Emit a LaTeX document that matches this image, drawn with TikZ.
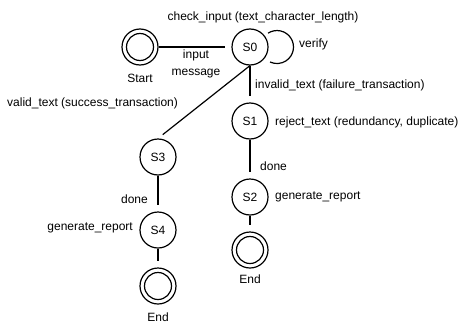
\documentclass[tikz,border=0pt]{standalone}
\usepackage{fontspec}
\setmainfont{Liberation Sans}
\usetikzlibrary{calc}
\begin{document}
\begin{tikzpicture}[x=1pt,y=1pt,
  every node/.style={font=\fontsize{12}{17}\selectfont},
  state/.style={circle,draw,line width=1.2pt,minimum size=36pt,inner sep=0pt},
  txt/.style={inner sep=1pt},
  conn/.style={line width=1.2pt,shorten >=6pt},
  ring/.style={line width=1.2pt}
]
\useasboundingbox (0,0) rectangle (465,325);
% states
\node[state] (start) at (140,278) {};
\node[state] (s0) at (250,278) {S0};
\node[state] (s1) at (250,204) {S1};
\node[state] (s2) at (250,128) {S2};
\node[state] (end1) at (250,75) {};
\node[state] (s3) at (158,168) {S3};
\node[state] (s4) at (158,95) {S4};
\node[state] (end2) at (158,39) {};
\draw[ring] (start.center) circle[radius=13.5pt];
\draw[ring] (end1.center) circle[radius=13.5pt];
\draw[ring] (end2.center) circle[radius=13.5pt];
% state labels
\node[txt] (startlbl) at ($(start)+(0,-31)$) {Start};
\node[txt] (end1lbl) at ($(end1)+(0,-29)$) {End};
\node[txt] (end2lbl) at ($(end2)+(0,-31)$) {End};
% connectors
\draw[conn] (start) -- (s0);
\draw[conn] (s0.south) -- (s1.north);
\draw[conn] (s0.south) -- (s3.north);
\draw[conn] (s1) -- (s2);
\draw[conn] (s2) -- (end1);
\draw[conn] (s3) -- (s4);
\draw[conn] (s4) -- (end2);
\draw[ring] ($(s0.center)+(18pt,13.8pt)$) arc[start angle=123,end angle=-115,radius=16.5pt];
% edge labels
\node[txt] (lcheck) at (263,308) {check\_input (text\_character\_length)};
\node[txt,anchor=west] (lverify) at (298,281) {verify};
\node[txt,align=center] (linput) at (196,261) {input\\message};
\node[txt,anchor=west] (linvalid) at (254,240) {invalid\_text (failure\_transaction)};
\node[txt,anchor=west] (lvalid) at (6,222) {valid\_text (success\_transaction)};
\node[txt,anchor=west] (lreject) at (274,203) {reject\_text (redundancy, duplicate)};
\node[txt,anchor=west] (ldone1) at (259,159) {done};
\node[txt,anchor=east] (ldone2) at (149,126) {done};
\node[txt,anchor=west] (lgen1) at (274,128) {generate\_report};
\node[txt,anchor=east] (lgen2) at (134,97) {generate\_report};
\end{tikzpicture}
\end{document}
